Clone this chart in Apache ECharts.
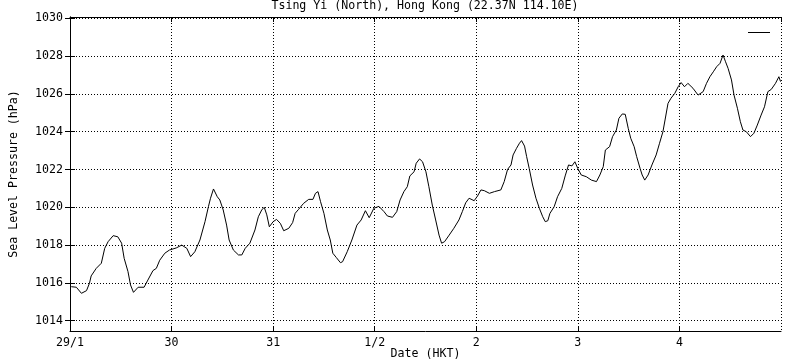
<!DOCTYPE html>
<html>
<head>
<meta charset="utf-8">
<script src="https://cdn.jsdelivr.net/npm/echarts@6/dist/echarts.min.js"></script>
<style>
  html, body { margin: 0; padding: 0; background: #fff; }
  #main { width: 800px; height: 360px; }
</style>
</head>
<body>
<div id="main"></div>
<script>
// hours since 29/1 00:00 HKT
var hours = [
    0.3, 1.5, 2.7, 3.9, 4.6, 5.0, 6.2, 7.4, 8.2, 9.0, 10.2, 11.3, 12.2, 12.8, 13.7, 14.3, 15.0, 16.1, 17.5, 18.4,
    19.6, 20.4, 21.2, 22.4, 23.5, 25.1, 26.4, 27.6, 28.5, 29.5, 30.7, 31.9, 32.7, 33.2, 33.9, 34.3, 34.8, 35.4, 36.2, 37.0,
    37.6, 38.6, 39.8, 40.6, 41.4, 42.5, 43.7, 44.5, 45.3, 45.9, 46.5, 47.1, 48.0, 48.8, 49.7, 50.5, 51.7, 52.6, 53.2, 54.0,
    55.2, 56.4, 57.4, 58.0, 58.6, 59.2, 60.0, 60.8, 61.5, 62.1, 62.9, 63.9, 64.4, 65.5, 66.6, 67.8, 68.8, 69.8, 70.7, 71.8,
    73.0, 74.2, 75.0, 76.2, 77.2, 78.0, 78.9, 79.7, 80.3, 81.3, 81.8, 82.6, 83.3, 84.1, 84.8, 85.6, 86.4, 87.2, 87.8, 88.5,
    89.6, 90.7, 91.9, 92.7, 93.5, 94.3, 95.5, 96.3, 97.1, 97.9, 99.1, 100.3, 101.8, 102.6, 103.4, 104.2, 104.7, 105.5, 106.2, 106.7,
    107.4, 107.9, 108.5, 109.3, 110.1, 110.9, 111.7, 112.3, 112.9, 113.4, 114.4, 115.2, 116.2, 117.0, 117.8, 118.6, 119.3, 120.0, 120.8, 122.0,
    123.2, 124.4, 125.2, 126.0, 126.5, 127.5, 128.2, 129.1, 129.7, 130.5, 131.2, 131.9, 132.5, 133.3, 133.9, 134.7, 135.2, 135.8, 136.6, 137.5,
    138.5, 139.3, 140.1, 140.6, 141.3, 142.0, 142.9, 143.7, 144.4, 145.2, 146.0, 147.2, 148.4, 149.6, 150.4, 151.2, 152.0, 152.8, 153.6, 154.3,
    154.9, 155.5, 156.3, 156.9, 157.7, 158.4, 159.0, 159.8, 160.8, 161.6, 162.4, 163.3, 164.1, 164.9, 165.7, 166.7, 167.5, 167.9
];
var pressure = [
    1015.80, 1015.77, 1015.45, 1015.59, 1015.98, 1016.37, 1016.77, 1017.04, 1017.83, 1018.18, 1018.50, 1018.44, 1018.10, 1017.30, 1016.60, 1015.89, 1015.50, 1015.77, 1015.77, 1016.15,
    1016.65, 1016.77, 1017.20, 1017.57, 1017.74, 1017.85, 1018.00, 1017.83, 1017.39, 1017.65, 1018.27, 1019.24, 1020.03, 1020.48, 1020.97, 1020.97, 1020.56, 1020.39, 1019.86, 1019.06,
    1018.27, 1017.74, 1017.48, 1017.48, 1017.83, 1018.10, 1018.80, 1019.50, 1019.86, 1020.00, 1019.60, 1018.97, 1019.24, 1019.36, 1019.15, 1018.76, 1018.89, 1019.19, 1019.68, 1019.89,
    1020.21, 1020.42, 1020.42, 1020.74, 1020.83, 1020.30, 1019.68, 1018.80, 1018.27, 1017.57, 1017.35, 1017.07, 1017.12, 1017.65, 1018.27, 1019.06, 1019.33, 1019.82, 1019.45, 1019.95,
    1020.05, 1019.77, 1019.54, 1019.47, 1019.77, 1020.39, 1020.83, 1021.09, 1021.66, 1021.88, 1022.33, 1022.56, 1022.41, 1021.88, 1021.09, 1020.12, 1019.33, 1018.53, 1018.10, 1018.18,
    1018.53, 1018.89, 1019.33, 1019.77, 1020.24, 1020.48, 1020.35, 1020.60, 1020.92, 1020.88, 1020.74, 1020.83, 1020.92, 1021.36, 1022.01, 1022.24, 1022.77, 1023.12, 1023.39, 1023.53,
    1023.24, 1022.68, 1022.06, 1021.18, 1020.48, 1019.95, 1019.50, 1019.24, 1019.29, 1019.68, 1020.03, 1020.56, 1021.00, 1021.66, 1022.24, 1022.19, 1022.41, 1022.05, 1021.71, 1021.62,
    1021.44, 1021.36, 1021.71, 1022.15, 1023.03, 1023.21, 1023.74, 1024.09, 1024.71, 1024.94, 1024.92, 1024.18, 1023.65, 1023.21, 1022.68, 1022.06, 1021.71, 1021.44, 1021.71, 1022.24,
    1022.77, 1023.39, 1024.00, 1024.62, 1025.50, 1025.77, 1026.03, 1026.38, 1026.60, 1026.38, 1026.56, 1026.30, 1025.94, 1026.12, 1026.56, 1026.91, 1027.17, 1027.44, 1027.62, 1028.06,
    1027.70, 1027.35, 1026.74, 1025.94, 1025.24, 1024.53, 1024.09, 1024.00, 1023.74, 1023.92, 1024.35, 1024.88, 1025.32, 1026.12, 1026.24, 1026.56, 1026.91, 1026.65
];
var dayLabels = ['29/1', '30', '31', '1/2', '2', '3', '4', ''];
var yTicks = [1014, 1016, 1018, 1020, 1022, 1024, 1026, 1028, 1030];

var font = 'DejaVu Sans Mono';
var seriesData = hours.map(function(h, i) {
    return [h, pressure[i]];
});

var myChart = echarts.init(document.getElementById('main'));

var gridLine = {
    show: true,
    lineStyle: { color: '#000', width: 1, type: [1, 2] }
};
var frameLine = { show: true, lineStyle: { color: '#000', width: 1 } };
var tick = { show: true, inside: true, length: 5, lineStyle: { color: '#000' } };

var option = {
    backgroundColor: '#fff',
    animation: false,
    title: {
        text: 'Tsing Yi (North), Hong Kong (22.37N 114.10E)',
        left: 425,
        textAlign: 'center',
        top: 0,
        padding: 0,
        textStyle: { fontFamily: font, fontSize: 11.6, fontWeight: 'normal', color: '#000' }
    },
    legend: {
        right: 25,
        top: 27,
        data: [' '],
        icon: 'rect',
        itemWidth: 22,
        itemHeight: 1,
        itemGap: 0,
        formatter: function() { return ''; },
        textStyle: { fontSize: 1 },
        itemStyle: { color: '#000' }
    },
    grid: { left: 70, right: 19, top: 17, bottom: 29, outerBoundsMode: 'none', containLabel: false },
    xAxis: [{
        type: 'value',
        min: 0,
        max: 168,
        interval: 24,
        position: 'bottom',
        name: 'Date (HKT)',
        nameLocation: 'middle',
        nameGap: 17,
        nameMoveOverlap: false,
        nameTextStyle: { fontFamily: font, fontSize: 11.6, color: '#000' },
        axisLine: frameLine,
        axisTick: tick,
        splitLine: gridLine,
        axisLabel: {
            fontFamily: font, fontSize: 11.6, color: '#000', margin: 6,
            showMaxLabel: false,
            formatter: function(v) { return dayLabels[Math.round(v / 24)]; }
        }
    }, {
        type: 'value',
        min: 0,
        max: 168,
        interval: 24,
        position: 'top',
        axisLine: frameLine,
        axisTick: tick,
        splitLine: { show: false },
        axisLabel: { show: false }
    }],
    yAxis: [{
        type: 'value',
        min: 1013.455,
        max: 1030.07,
        position: 'left',
        name: 'Sea Level Pressure (hPa)',
        nameLocation: 'middle',
        nameRotate: 90,
        nameGap: 50,
        nameMoveOverlap: false,
        nameTextStyle: { fontFamily: font, fontSize: 11.6, color: '#000' },
        axisLine: frameLine,
        axisTick: { show: true, inside: true, length: 5, lineStyle: { color: '#000' }, customValues: yTicks },
        splitLine: gridLine,
        axisLabel: {
            fontFamily: font, fontSize: 11.6, color: '#000', margin: 7,
            customValues: yTicks,
            formatter: function(v) { return String(v); }
        }
    }, {
        type: 'value',
        min: 1013.455,
        max: 1030.07,
        position: 'right',
        axisLine: frameLine,
        axisTick: { show: true, inside: true, length: 5, lineStyle: { color: '#000' }, customValues: yTicks },
        splitLine: { show: false },
        axisLabel: { show: false }
    }],
    series: [{
        name: ' ',
        type: 'line',
        data: seriesData,
        showSymbol: false,
        symbol: 'none',
        lineStyle: { color: '#000', width: 1 },
        itemStyle: { color: '#000' }
    }]
};

myChart.setOption(option);
</script>
</body>
</html>
